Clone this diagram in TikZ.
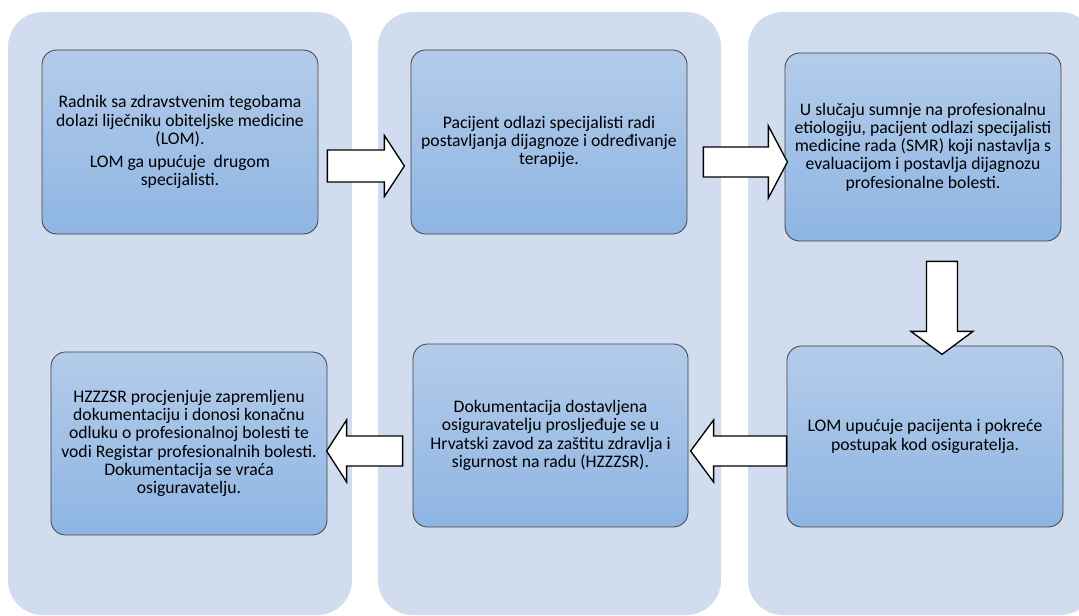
\documentclass[tikz,border=0pt]{standalone}
\usepackage{fontspec}
\setmainfont{Carlito}
\usepackage{xcolor}
\usepackage{tikz}
\usetikzlibrary{calc}

\definecolor{lanefill}{RGB}{209,220,238}
\definecolor{boxtop}{RGB}{180,204,234}
\definecolor{boxbottom}{RGB}{142,181,227}
\definecolor{boxline}{RGB}{64,64,64}

% tail, angle, length, head length, shaft half width, head half width
\newcommand{\blockarrow}[6]{%
  \draw[arrowbody, shift={(#1)}, rotate=#2] (0,-#5) -- ({#3-#4},-#5) -- ({#3-#4},-#6) -- (#3,0)
    -- ({#3-#4},#6) -- ({#3-#4},#5) -- (0,#5) -- cycle;}

\begin{document}
\begin{tikzpicture}[
    x=0.75pt, y=-0.75pt,
    lane/.style={rectangle, fill=lanefill, rounded corners=26pt, minimum height=452.25pt, inner sep=0pt},
    stepbox/.style={rectangle, draw=boxline, line width=0.6pt, rounded corners=11pt, top color=boxtop, bottom color=boxbottom,
      minimum width=207pt, align=center, inner sep=0pt, font=\fontsize{13.25}{13.7}\selectfont},
    arrowbody/.style={draw=black, fill=white, line width=1pt, line join=miter}
]
\useasboundingbox (0,0) rectangle (1079,616);
\clip (0,0) rectangle (1079,616);

% lanes
\node [lane, minimum width=258pt] (lane1) at (180,313.5) {};
\node [lane, minimum width=257.25pt] (lane2) at (549.5,313.5) {};
\node [lane, minimum width=260.25pt] (lane3) at (921.5,313.5) {};

% steps
\node [stepbox, minimum height=138pt] (radnik) at (180,142)
  {Radnik sa zdravstvenim tegobama\\dolazi liječniku obiteljske medicine\\(LOM).\\[3.5pt]LOM ga upućuje\ \ drugom\\specijalisti.};
\node [stepbox, minimum height=138pt] (pacijent) at (549,142)
  {Pacijent odlazi specijalisti radi\\postavljanja dijagnoze i određivanje\\terapije.};
\node [stepbox, minimum height=141pt] (smr) at (923,147)
  {U slučaju sumnje na profesionalnu\\etiologiju, pacijent odlazi specijalisti\\medicine rada (SMR) koji nastavlja s\\evaluacijom i postavlja dijagnozu\\profesionalne bolesti.};
\node [stepbox, minimum height=135.75pt] (uputnica) at (925,436.5)
  {LOM upućuje pacijenta i pokreće\\postupak kod osiguratelja.};
\node [stepbox, minimum height=137.25pt, minimum width=206.25pt] (dostava) at (550.5,435.5)
  {Dokumentacija dostavljena\\osiguravatelju prosljeđuje se u\\Hrvatski zavod za zaštitu zdravlja i\\sigurnost na radu (HZZZSR).};
\node [stepbox, minimum height=137.25pt] (odluka) at (189,443.5)
  {HZZZSR procjenjuje zapremljenu\\dokumentaciju i donosi konačnu\\odluku o profesionalnoj bolesti te\\vodi Registar profesionalnih bolesti.\\Dokumentacija se vraća\\osiguravatelju.};

% arrow tails
\coordinate (t1) at ($(radnik.east)+(9,24)$);
\coordinate (t2) at ($(pacijent.east)+(16,20)$);
\coordinate (t3) at ($(smr.south)+(19,20)$);
\coordinate (t4) at ($(uputnica.west)+(0,14.5)$);
\coordinate (t5) at ($(dostava.west)+(-10,15.5)$);

\blockarrow{t1}{0}{77}{20}{16}{30.5}
\blockarrow{t2}{0}{84}{19}{15}{36}
\blockarrow{t3}{-90}{93}{23}{15.5}{31}
\blockarrow{t4}{180}{96}{23}{15}{31}
\blockarrow{t5}{180}{76}{20}{15}{31}

\end{tikzpicture}
\end{document}
